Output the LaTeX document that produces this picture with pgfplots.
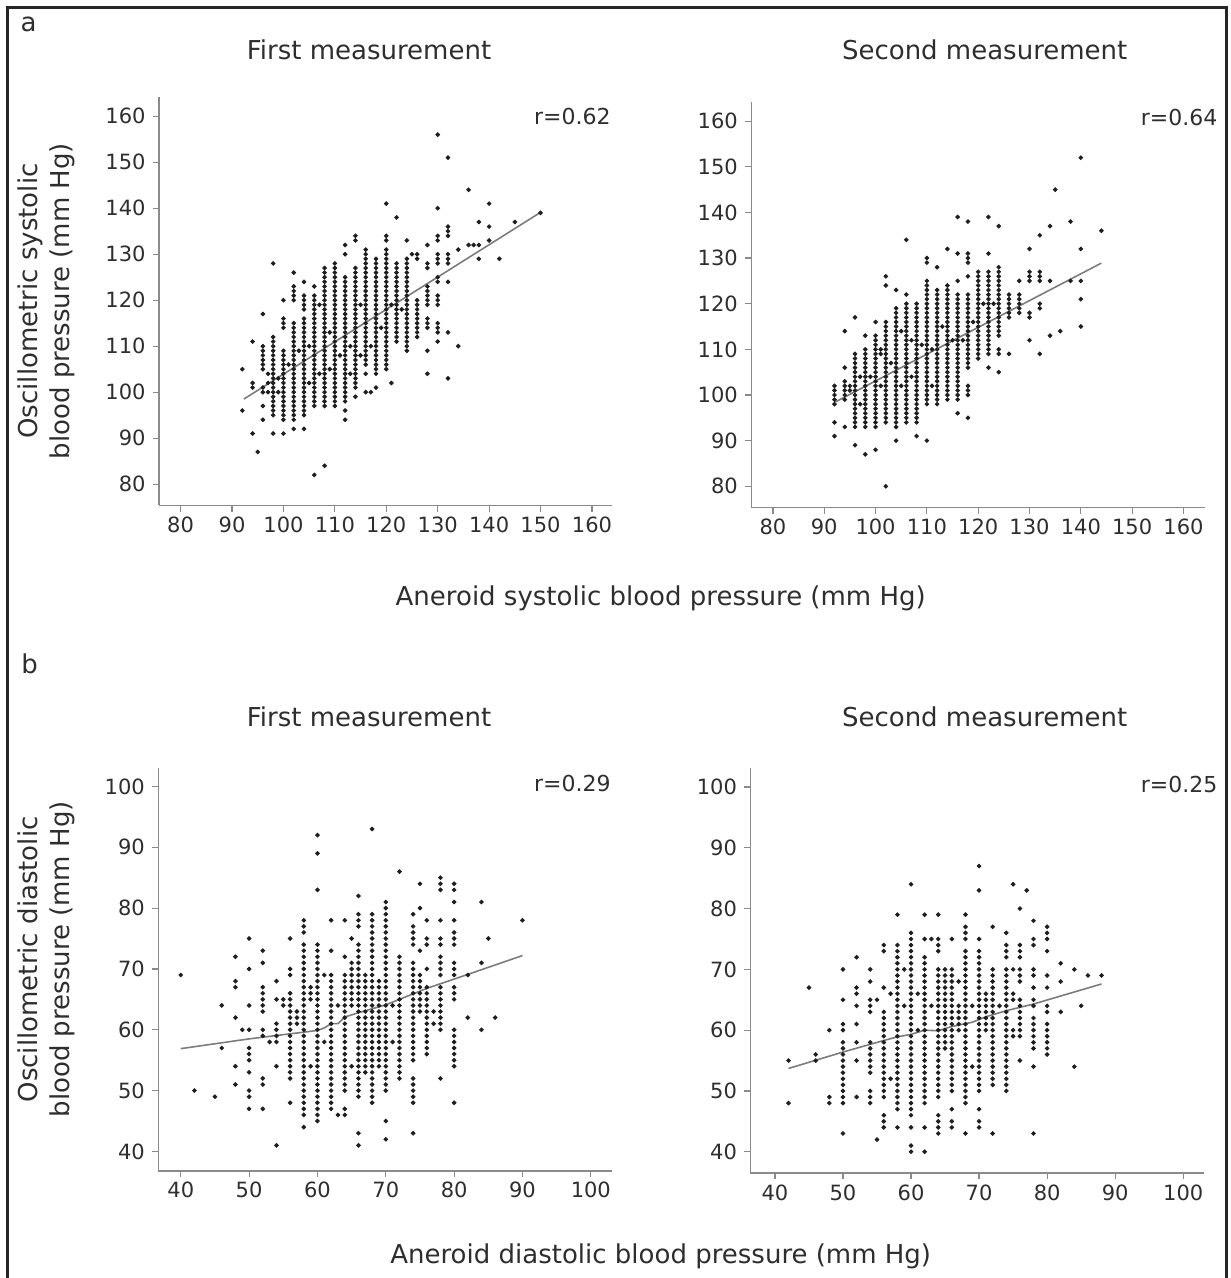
\documentclass[border=0pt]{standalone}
\usepackage{fontspec}
\setmainfont{DejaVu Sans}
\usepackage{pgfplots}
\pgfplotsset{compat=1.18}
\definecolor{axgray}{HTML}{8A8A8A}
\definecolor{txt}{HTML}{2E2E2E}
\definecolor{dot}{HTML}{1E1E1E}
\definecolor{fitline}{HTML}{7C7C7C}
\pgfplotsset{
  bpstyle/.style={
    scale only axis,
    axis lines=left,
    axis line style={-, axgray, line width=0.7pt},
    every tick/.style={axgray, line width=0.6pt},
    major tick length=3.2pt,
    tick align=outside,
    tick pos=left,
    ticklabel style={font=\fontsize{10.5}{12}\selectfont, text=txt},
    xticklabel style={yshift=1pt},
    /pgf/number format/assume math mode=true,
    clip=false,
    anchor=south west,
  },
  dots/.style={only marks, mark=*, mark size=0.95pt, mark options={fill=dot, draw=none}, color=dot},
  fitl/.style={no marks, color=fitline, line width=0.8pt},
}
\newcommand{\lab}{\fontsize{13}{15.8}\selectfont}
\begin{document}
\begin{tikzpicture}
\useasboundingbox (0pt,0pt) rectangle (615pt,639pt);
\draw[line width=1.5pt, black!85] (3.55pt,-5pt) -- (3.55pt,635.35pt) -- (613pt,635.35pt) -- (613pt,-5pt);
% panel letters
\node[text=txt, font=\lab] at (14.25pt,626.75pt) {a};
\node[text=txt, font=\lab] at (14.85pt,307.3pt) {b};
% titles
\node[text=txt, font=\lab] at (184.5pt,613.9pt) {First measurement};
\node[text=txt, font=\lab] at (492.35pt,614.1pt) {Second measurement};
\node[text=txt, font=\lab] at (184.5pt,280.35pt) {First measurement};
\node[text=txt, font=\lab] at (492.35pt,280.35pt) {Second measurement};
% x labels
\node[text=txt, font=\lab] at (330.35pt,340pt) {Aneroid systolic blood pressure (mm Hg)};
\node[text=txt, font=\lab] at (330.35pt,10.8pt) {Aneroid diastolic blood pressure (mm Hg)};
% y labels
\node[text=txt, font=\lab, rotate=90, align=center] at (23.25pt,488.5pt) {Oscillometric systolic\\blood pressure (mm Hg)};
\node[text=txt, font=\lab, rotate=90, align=center] at (23.25pt,159.3pt) {Oscillometric diastolic\\blood pressure (mm Hg)};
% r values
\node[text=txt, font=\fontsize{11}{13}\selectfont, anchor=east, inner sep=0pt] at (305.5pt,580.85pt) {r=0.62};
\node[text=txt, font=\fontsize{11}{13}\selectfont, anchor=east, inner sep=0pt] at (608.85pt,580.45pt) {r=0.64};
\node[text=txt, font=\fontsize{11}{13}\selectfont, anchor=east, inner sep=0pt] at (305.5pt,247.4pt) {r=0.29};
\node[text=txt, font=\fontsize{11}{13}\selectfont, anchor=east, inner sep=0pt] at (608.85pt,246.8pt) {r=0.25};

% ---------- a, first ----------
\begin{axis}[bpstyle, at={(79.5pt,386.35pt)}, width=226.5pt, height=204.3pt,
  xmin=75.8, xmax=163.9, ymin=75.4, ymax=164.26,
  xtick={80,90,...,160}, ytick={80,90,...,160}]
\addplot[dots] coordinates {
(92,105)(92,96)
(94,111)(94,102)(94,101)(94,91)(95,87)
(96,117)(96,110)(96,109)(96,108)(96,107)(96,106)(96,105)(96,101)(96,100)(96,97)(96,94)
(97,104)(97,102)(97,100)
(98,128)(98,112)(98,111)(98,110)(98,109)(98,108)(98,107)(98,106)(98,105)(98,104)(98,103)(98,102)(98,101)(98,100)(98,99)(98,98)(98,97)(98,96)(98,95)(98,91)
(99,103)(99,100)
(100,120)(100,116)(100,115)(100,114)(100,109)(100,108)(100,107)(100,106)(100,105)(100,104)(100,103)(100,102)(100,101)(100,100)(100,99)(100,98)(100,97)(100,96)(100,95)(100,94)(100,91)
(101,106)
(102,126)(102,123)(102,122)(102,121)(102,120)(102,115)(102,114)(102,113)(102,112)(102,111)(102,110)(102,109)(102,108)(102,107)(102,106)(102,105)(102,104)(102,103)(102,102)(102,101)(102,100)(102,99)(102,98)(102,97)(102,96)(102,95)(102,94)(102,92)
(103,109)
(104,124)(104,121)(104,120)(104,119)(104,118)(104,116)(104,115)(104,114)(104,113)(104,112)(104,111)(104,110)(104,109)(104,108)(104,107)(104,106)(104,105)(104,104)(104,103)(104,102)(104,101)(104,100)(104,99)(104,98)(104,97)(104,96)(104,95)(104,92)
(105,110)(105,102)
(106,123)(106,121)(106,120)(106,119)(106,118)(106,117)(106,116)(106,115)(106,114)(106,113)(106,112)(106,111)(106,110)(106,109)(106,108)(106,107)(106,106)(106,105)(106,104)(106,103)(106,102)(106,101)(106,100)(106,99)(106,98)(106,97)(106,82)
(107,119)(107,104)
(108,127)(108,126)(108,125)(108,124)(108,123)(108,122)(108,121)(108,120)(108,119)(108,118)(108,117)(108,116)(108,115)(108,114)(108,113)(108,112)(108,111)(108,110)(108,109)(108,108)(108,107)(108,106)(108,105)(108,104)(108,103)(108,102)(108,101)(108,100)(108,99)(108,98)(108,97)(108,84)
(109,113)(109,105)
(110,128)(110,127)(110,126)(110,125)(110,124)(110,123)(110,122)(110,121)(110,120)(110,119)(110,118)(110,117)(110,116)(110,115)(110,114)(110,113)(110,112)(110,111)(110,110)(110,109)(110,108)(110,107)(110,106)(110,105)(110,104)(110,103)(110,102)(110,101)(110,100)(110,99)(110,98)(110,97)
(111,108)
(112,132)(112,130)(112,125)(112,124)(112,123)(112,122)(112,121)(112,120)(112,119)(112,118)(112,117)(112,116)(112,115)(112,114)(112,113)(112,112)(112,111)(112,110)(112,109)(112,108)(112,107)(112,106)(112,105)(112,104)(112,103)(112,102)(112,101)(112,100)(112,99)(112,98)(112,96)(112,94)
(113,110)(113,104)
(114,134)(114,133)(114,127)(114,126)(114,125)(114,124)(114,123)(114,122)(114,121)(114,120)(114,119)(114,118)(114,117)(114,116)(114,115)(114,114)(114,113)(114,112)(114,111)(114,110)(114,109)(114,108)(114,107)(114,106)(114,105)(114,104)(114,103)(114,102)(114,101)(114,99)
(115,119)(115,108)
(116,131)(116,130)(116,129)(116,128)(116,127)(116,126)(116,125)(116,124)(116,123)(116,122)(116,121)(116,120)(116,119)(116,118)(116,117)(116,116)(116,115)(116,114)(116,113)(116,112)(116,111)(116,110)(116,109)(116,108)(116,107)(116,106)(116,104)(116,100)
(117,110)(117,100)
(118,129)(118,128)(118,127)(118,126)(118,125)(118,124)(118,123)(118,122)(118,121)(118,120)(118,119)(118,118)(118,117)(118,116)(118,115)(118,114)(118,113)(118,112)(118,111)(118,110)(118,109)(118,108)(118,107)(118,106)(118,105)(118,104)(118,101)
(119,114)
(120,141)(120,134)(120,133)(120,131)(120,130)(120,129)(120,128)(120,127)(120,126)(120,125)(120,124)(120,123)(120,122)(120,121)(120,120)(120,119)(120,118)(120,117)(120,116)(120,115)(120,114)(120,113)(120,112)(120,111)(120,110)(120,109)(120,108)(120,107)(120,106)(120,105)
(121,119)(121,102)
(122,138)(122,128)(122,127)(122,126)(122,125)(122,124)(122,123)(122,122)(122,121)(122,120)(122,119)(122,118)(122,117)(122,116)(122,115)(122,114)(122,113)(122,112)(122,111)
(123,118)
(124,133)(124,129)(124,128)(124,127)(124,126)(124,125)(124,124)(124,123)(124,122)(124,121)(124,120)(124,119)(124,118)(124,117)(124,116)(124,115)(124,114)(124,113)(124,112)(124,111)(124,110)(124,109)
(125,130)
(126,130)(126,129)(126,120)(126,119)(126,118)(126,117)(126,116)(126,115)(126,114)(126,113)(126,112)
(128,132)(128,128)(128,127)(128,123)(128,122)(128,121)(128,120)(128,119)(128,116)(128,115)(128,114)(128,109)(128,104)
(130,156)(130,140)(130,134)(130,133)(130,130)(130,129)(130,128)(130,125)(130,124)(130,121)(130,120)(130,119)(130,115)(130,114)(130,113)(130,111)
(132,151)(132,136)(132,135)(132,134)(132,130)(132,129)(132,128)(132,124)(132,113)(132,103)
(134,131)(134,110)(136,144)(136,132)(137,132)(138,137)(138,132)(138,129)(140,141)(140,136)(140,133)(142,129)(145,137)(150,139)
};
\addplot[fitl] coordinates {(92.3,98.5)(150,139.1)};
\end{axis}

% ---------- a, second ----------
\begin{axis}[bpstyle, at={(375.6pt,385.35pt)}, width=226.9pt, height=202.65pt,
  xmin=75.77, xmax=164.2, ymin=75.4, ymax=164.2,
  xtick={80,90,...,160}, ytick={80,90,...,160}]
\addplot[dots] coordinates {
(92,102)(92,101)(92,100)(92,99)(92,98)(92,94)(92,91)
(94,114)(94,106)(94,103)(94,102)(94,101)(94,100)(94,99)(94,93)
(95,102)(95,101)
(96,117)(96,109)(96,108)(96,107)(96,106)(96,105)(96,104)(96,103)(96,102)(96,101)(96,100)(96,99)(96,98)(96,97)(96,96)(96,95)(96,94)(96,93)(96,89)
(97,104)(97,98)
(98,113)(98,110)(98,109)(98,108)(98,107)(98,106)(98,105)(98,104)(98,103)(98,102)(98,101)(98,100)(98,99)(98,98)(98,97)(98,96)(98,95)(98,94)(98,93)(98,87)
(99,104)
(100,116)(100,113)(100,112)(100,111)(100,110)(100,109)(100,108)(100,107)(100,106)(100,105)(100,104)(100,103)(100,102)(100,101)(100,100)(100,99)(100,98)(100,97)(100,96)(100,95)(100,94)(100,93)(100,88)
(101,110)(101,109)(101,102)
(102,126)(102,124)(102,116)(102,115)(102,114)(102,113)(102,112)(102,111)(102,110)(102,109)(102,108)(102,107)(102,106)(102,105)(102,104)(102,103)(102,102)(102,101)(102,100)(102,99)(102,98)(102,97)(102,96)(102,95)(102,94)(102,80)
(103,107)
(104,123)(104,119)(104,118)(104,117)(104,116)(104,115)(104,114)(104,113)(104,112)(104,111)(104,110)(104,109)(104,108)(104,107)(104,106)(104,105)(104,104)(104,103)(104,102)(104,101)(104,100)(104,99)(104,98)(104,97)(104,96)(104,95)(104,94)(104,93)(104,90)
(105,114)(105,102)
(106,134)(106,122)(106,120)(106,119)(106,118)(106,117)(106,116)(106,115)(106,114)(106,113)(106,112)(106,111)(106,110)(106,109)(106,108)(106,107)(106,106)(106,105)(106,104)(106,103)(106,102)(106,101)(106,100)(106,99)(106,98)(106,97)(106,96)(106,95)(106,94)
(107,112)(107,104)
(108,120)(108,119)(108,118)(108,117)(108,116)(108,115)(108,114)(108,113)(108,112)(108,111)(108,110)(108,109)(108,108)(108,107)(108,106)(108,105)(108,104)(108,103)(108,102)(108,101)(108,100)(108,99)(108,98)(108,97)(108,96)(108,95)(108,94)(108,91)
(109,111)
(110,130)(110,129)(110,125)(110,124)(110,123)(110,122)(110,121)(110,120)(110,119)(110,118)(110,117)(110,116)(110,115)(110,114)(110,113)(110,112)(110,111)(110,110)(110,109)(110,108)(110,107)(110,106)(110,105)(110,104)(110,103)(110,102)(110,101)(110,100)(110,99)(110,98)(110,90)
(111,110)(111,102)
(112,128)(112,123)(112,122)(112,121)(112,120)(112,119)(112,118)(112,117)(112,116)(112,115)(112,114)(112,113)(112,112)(112,111)(112,110)(112,109)(112,108)(112,107)(112,106)(112,105)(112,104)(112,103)(112,102)(112,101)(112,100)(112,99)(112,98)
(113,115)
(114,132)(114,124)(114,123)(114,122)(114,121)(114,120)(114,119)(114,118)(114,117)(114,116)(114,115)(114,114)(114,113)(114,112)(114,111)(114,110)(114,109)(114,108)(114,107)(114,106)(114,105)(114,104)(114,103)(114,102)(114,101)(114,100)(114,99)
(115,112)
(116,139)(116,131)(116,125)(116,122)(116,121)(116,120)(116,119)(116,118)(116,117)(116,116)(116,115)(116,114)(116,113)(116,112)(116,111)(116,110)(116,109)(116,108)(116,107)(116,106)(116,105)(116,104)(116,103)(116,102)(116,101)(116,100)(116,99)(116,96)
(117,112)
(118,138)(118,131)(118,130)(118,129)(118,126)(118,122)(118,121)(118,120)(118,119)(118,118)(118,117)(118,116)(118,115)(118,114)(118,113)(118,112)(118,111)(118,110)(118,109)(118,108)(118,107)(118,106)(118,102)(118,101)(118,100)(118,95)
(119,116)
(120,127)(120,126)(120,125)(120,124)(120,123)(120,122)(120,121)(120,120)(120,119)(120,118)(120,117)(120,116)(120,115)(120,114)(120,113)(120,112)(120,111)(120,110)(120,109)(120,108)
(121,120)
(122,139)(122,131)(122,127)(122,126)(122,125)(122,124)(122,123)(122,122)(122,121)(122,120)(122,119)(122,118)(122,117)(122,116)(122,115)(122,114)(122,113)(122,112)(122,111)(122,110)(122,109)(122,106)
(123,120)
(124,137)(124,128)(124,127)(124,126)(124,125)(124,124)(124,123)(124,122)(124,121)(124,120)(124,119)(124,118)(124,117)(124,116)(124,115)(124,114)(124,113)(124,110)(124,109)(124,105)
(126,122)(126,121)(126,120)(126,119)(126,118)(126,117)(126,109)
(128,125)(128,122)(128,121)(128,120)(128,119)(128,118)
(130,132)(130,127)(130,126)(130,125)(130,118)(130,117)(130,112)
(132,135)(132,127)(132,126)(132,125)(132,120)(132,119)(132,109)
(134,137)(134,125)(134,113)(135,145)(136,114)(138,138)(138,125)
(140,152)(140,132)(140,125)(140,121)(140,115)(144,136)
};
\addplot[fitl] coordinates {(92.2,98.5)(144,128.9)};
\end{axis}

% ---------- b, first ----------
\begin{axis}[bpstyle, at={(79.1pt,53.55pt)}, width=226.9pt, height=201.35pt,
  xmin=36.7, xmax=103.1, ymin=36.8, ymax=103.0,
  xtick={40,50,...,100}, ytick={40,50,...,100}]
\addplot[dots] coordinates {
(40,69)(42,50)(45,49)(46,64)(46,57)
(48,72)(48,68)(48,67)(48,62)(48,54)(48,51)(49,60)
(50,75)(50,70)(50,64)(50,60)(50,57)(50,56)(50,55)(50,53)(50,50)(50,49)(50,47)
(52,73)(52,71)(52,67)(52,66)(52,65)(52,64)(52,63)(52,60)(52,59)(52,52)(52,51)(52,47)
(53,58)(54,68)(54,65)(54,61)(54,60)(54,59)(54,58)(54,54)(54,41)(55,65)(55,64)
(56,75)(56,70)(56,69)(56,66)(56,65)(56,64)(56,63)(56,62)(56,61)(56,60)(56,59)(56,58)(56,57)(56,56)(56,55)(56,54)(56,53)(56,52)(56,48)
(57,63)(57,62)(57,61)
(58,78)(58,77)(58,76)(58,74)(58,73)(58,72)(58,71)(58,70)(58,69)(58,68)(58,67)(58,66)(58,65)(58,64)(58,63)(58,62)(58,61)(58,60)(58,59)(58,58)(58,57)(58,56)(58,55)(58,54)(58,53)(58,52)(58,51)(58,50)(58,49)(58,48)(58,47)(58,46)(58,44)
(59,67)(59,66)(59,65)(59,54)
(60,92)(60,89)(60,83)(60,74)(60,73)(60,72)(60,71)(60,70)(60,69)(60,68)(60,67)(60,66)(60,65)(60,64)(60,63)(60,62)(60,61)(60,60)(60,59)(60,58)(60,57)(60,56)(60,55)(60,54)(60,53)(60,52)(60,51)(60,50)(60,49)(60,48)(60,47)(60,46)(60,45)
(61,69)(61,58)
(62,78)(62,73)(62,69)(62,68)(62,67)(62,66)(62,65)(62,64)(62,63)(62,62)(62,61)(62,60)(62,59)(62,58)(62,57)(62,56)(62,55)(62,54)(62,53)(62,52)(62,51)(62,50)(62,49)(62,48)(62,47)
(63,64)(63,46)
(64,78)(64,72)(64,69)(64,68)(64,67)(64,66)(64,65)(64,64)(64,63)(64,62)(64,61)(64,60)(64,59)(64,58)(64,57)(64,56)(64,55)(64,54)(64,53)(64,52)(64,51)(64,50)(64,47)(64,46)
(65,75)(65,71)(65,70)(65,69)(65,68)(65,67)(65,66)(65,65)(65,64)(65,54)
(66,82)(66,79)(66,78)(66,77)(66,74)(66,73)(66,72)(66,71)(66,70)(66,69)(66,68)(66,67)(66,66)(66,65)(66,64)(66,63)(66,62)(66,61)(66,60)(66,59)(66,58)(66,57)(66,56)(66,55)(66,54)(66,53)(66,52)(66,51)(66,50)(66,49)(66,43)(66,41)
(67,69)(67,68)(67,67)(67,66)(67,65)(67,64)(67,63)(67,62)(67,61)(67,60)(67,59)(67,58)(67,57)(67,56)(67,55)(67,54)(67,53)
(68,93)(68,79)(68,78)(68,77)(68,76)(68,75)(68,74)(68,73)(68,72)(68,71)(68,70)(68,69)(68,68)(68,67)(68,66)(68,65)(68,64)(68,63)(68,62)(68,61)(68,60)(68,59)(68,58)(68,57)(68,56)(68,55)(68,54)(68,53)(68,52)(68,51)(68,50)(68,49)(68,48)
(69,68)(69,67)(69,66)(69,65)(69,64)(69,63)(69,62)(69,61)(69,60)(69,59)(69,58)(69,57)(69,56)(69,55)(69,54)
(70,81)(70,80)(70,79)(70,78)(70,77)(70,76)(70,75)(70,74)(70,73)(70,72)(70,71)(70,70)(70,69)(70,68)(70,67)(70,66)(70,65)(70,64)(70,63)(70,62)(70,61)(70,60)(70,59)(70,58)(70,57)(70,56)(70,55)(70,54)(70,53)(70,52)(70,51)(70,50)(70,45)(70,42)
(71,64)(71,58)
(72,86)(72,72)(72,71)(72,70)(72,69)(72,68)(72,67)(72,66)(72,65)(72,64)(72,63)(72,62)(72,61)(72,60)(72,59)(72,58)(72,57)(72,56)(72,55)(72,54)(72,53)(72,52)
(74,79)(74,77)(74,76)(74,75)(74,74)(74,71)(74,70)(74,69)(74,68)(74,67)(74,66)(74,65)(74,64)(74,63)(74,62)(74,61)(74,60)(74,59)(74,58)(74,57)(74,56)(74,55)(74,52)(74,51)(74,50)(74,49)(74,48)(74,43)
(75,84)(75,80)(75,73)(75,69)(75,68)(75,67)(75,66)(75,65)(75,64)(75,63)
(76,78)(76,75)(76,74)(76,70)(76,67)(76,66)(76,65)(76,64)(76,63)(76,62)(76,61)(76,60)(76,59)(76,58)(76,57)(76,56)
(77,63)(77,61)
(78,85)(78,84)(78,83)(78,78)(78,75)(78,74)(78,72)(78,71)(78,70)(78,69)(78,67)(78,66)(78,65)(78,64)(78,63)(78,62)(78,61)(78,60)(78,52)
(80,84)(80,83)(80,81)(80,78)(80,76)(80,75)(80,74)(80,71)(80,70)(80,69)(80,67)(80,66)(80,65)(80,60)(80,59)(80,58)(80,57)(80,56)(80,55)(80,54)(80,48)
(82,69)(82,62)(84,81)(84,71)(84,60)(85,75)(86,62)(90,78)
};
\addplot[fitl] coordinates {(40,56.9)(50,58.5)(55,59.2)(58,59.6)(60,59.9)(61,60.3)(62,61)(63,61)(64,62.1)(66,62.8)(70,64.1)(76,66.8)(82,69.1)(90,72.2)};
\end{axis}

% ---------- b, second ----------
\begin{axis}[bpstyle, at={(375.2pt,52.5pt)}, width=226.95pt, height=202.4pt,
  xmin=36.4, xmax=103.1, ymin=36.5, ymax=103.1,
  xtick={40,50,...,100}, ytick={40,50,...,100}]
\addplot[dots] coordinates {
(42,55)(42,48)(45,67)(46,56)(46,55)(48,60)(48,49)(48,48)
(50,70)(50,65)(50,61)(50,60)(50,58)(50,57)(50,56)(50,55)(50,54)(50,53)(50,52)(50,51)(50,50)(50,49)(50,48)(50,43)
(52,72)(52,67)(52,66)(52,64)(52,61)(52,58)(52,55)(52,49)
(54,70)(54,68)(54,65)(54,64)(54,63)(54,58)(54,57)(54,56)(54,55)(54,54)(54,53)(54,50)(54,49)(54,48)
(55,65)(55,42)
(56,74)(56,73)(56,67)(56,63)(56,62)(56,61)(56,60)(56,59)(56,58)(56,57)(56,56)(56,55)(56,54)(56,53)(56,52)(56,51)(56,50)(56,49)(56,46)(56,45)(56,44)
(57,66)(57,52)
(58,79)(58,74)(58,73)(58,72)(58,71)(58,70)(58,69)(58,68)(58,67)(58,66)(58,65)(58,64)(58,63)(58,62)(58,61)(58,60)(58,59)(58,58)(58,57)(58,56)(58,55)(58,54)(58,53)(58,52)(58,51)(58,50)(58,49)(58,48)(58,47)(58,44)
(59,70)(59,64)
(60,84)(60,76)(60,75)(60,74)(60,73)(60,72)(60,71)(60,70)(60,69)(60,68)(60,67)(60,66)(60,65)(60,64)(60,63)(60,62)(60,61)(60,60)(60,59)(60,58)(60,57)(60,56)(60,55)(60,54)(60,53)(60,52)(60,51)(60,50)(60,49)(60,48)(60,47)(60,46)(60,44)(60,41)(60,40)
(61,66)(61,60)
(62,79)(62,75)(62,72)(62,71)(62,70)(62,69)(62,68)(62,67)(62,66)(62,65)(62,64)(62,63)(62,62)(62,61)(62,60)(62,59)(62,58)(62,57)(62,56)(62,55)(62,54)(62,53)(62,52)(62,51)(62,50)(62,49)(62,48)(62,44)(62,40)
(63,75)(63,64)
(64,79)(64,75)(64,74)(64,73)(64,70)(64,69)(64,68)(64,67)(64,66)(64,65)(64,64)(64,63)(64,62)(64,61)(64,60)(64,59)(64,58)(64,57)(64,56)(64,55)(64,54)(64,53)(64,52)(64,51)(64,50)(64,49)(64,46)(64,45)(64,44)(64,43)
(65,70)(65,69)(65,68)(65,67)(65,66)(65,65)(65,64)(65,63)(65,62)(65,61)(65,60)(65,59)(65,58)(65,57)
(66,75)(66,70)(66,69)(66,68)(66,67)(66,66)(66,65)(66,64)(66,63)(66,62)(66,61)(66,60)(66,59)(66,58)(66,57)(66,56)(66,55)(66,54)(66,53)(66,52)(66,51)(66,50)(66,47)(66,45)(66,44)
(67,68)(67,64)(67,63)(67,62)(67,61)(67,60)
(68,79)(68,77)(68,76)(68,75)(68,73)(68,72)(68,71)(68,70)(68,69)(68,68)(68,67)(68,66)(68,65)(68,64)(68,63)(68,62)(68,61)(68,60)(68,59)(68,58)(68,57)(68,56)(68,55)(68,54)(68,53)(68,52)(68,51)(68,50)(68,49)(68,48)(68,43)
(69,64)(69,54)
(70,87)(70,83)(70,75)(70,73)(70,72)(70,71)(70,70)(70,69)(70,68)(70,67)(70,66)(70,65)(70,64)(70,63)(70,62)(70,61)(70,60)(70,59)(70,58)(70,57)(70,56)(70,55)(70,54)(70,53)(70,52)(70,51)(70,50)(70,47)(70,45)(70,44)
(71,66)(71,65)(71,64)(71,63)(71,62)(71,61)(71,60)
(72,77)(72,70)(72,69)(72,68)(72,67)(72,66)(72,65)(72,64)(72,63)(72,62)(72,61)(72,60)(72,59)(72,58)(72,57)(72,56)(72,55)(72,54)(72,53)(72,52)(72,51)(72,43)
(73,64)
(74,76)(74,74)(74,73)(74,72)(74,70)(74,69)(74,68)(74,67)(74,66)(74,65)(74,64)(74,63)(74,62)(74,61)(74,60)(74,59)(74,58)(74,57)(74,56)(74,55)(74,54)(74,53)(74,52)(74,51)(74,50)
(75,84)(75,70)(75,66)(75,65)(75,60)(75,59)
(76,80)(76,74)(76,73)(76,72)(76,70)(76,69)(76,68)(76,65)(76,64)(76,63)(76,62)(76,61)(76,60)(76,59)(76,55)
(77,83)
(78,78)(78,75)(78,74)(78,70)(78,69)(78,67)(78,65)(78,64)(78,62)(78,61)(78,60)(78,59)(78,58)(78,57)(78,54)(78,43)
(80,77)(80,76)(80,75)(80,73)(80,69)(80,67)(80,64)(80,63)(80,61)(80,60)(80,59)(80,58)(80,57)(80,56)
(82,71)(82,68)(82,63)(84,70)(84,54)(85,64)(86,69)(88,69)
};
\addplot[fitl] coordinates {(42,53.7)(50,56.4)(56,58.3)(58,58.9)(60,59.3)(62,60)(64,59.9)(66,60.6)(69,61.3)(71,62.2)(74,63.2)(78,64.3)(88,67.6)};
\end{axis}
\end{tikzpicture}
\end{document}
